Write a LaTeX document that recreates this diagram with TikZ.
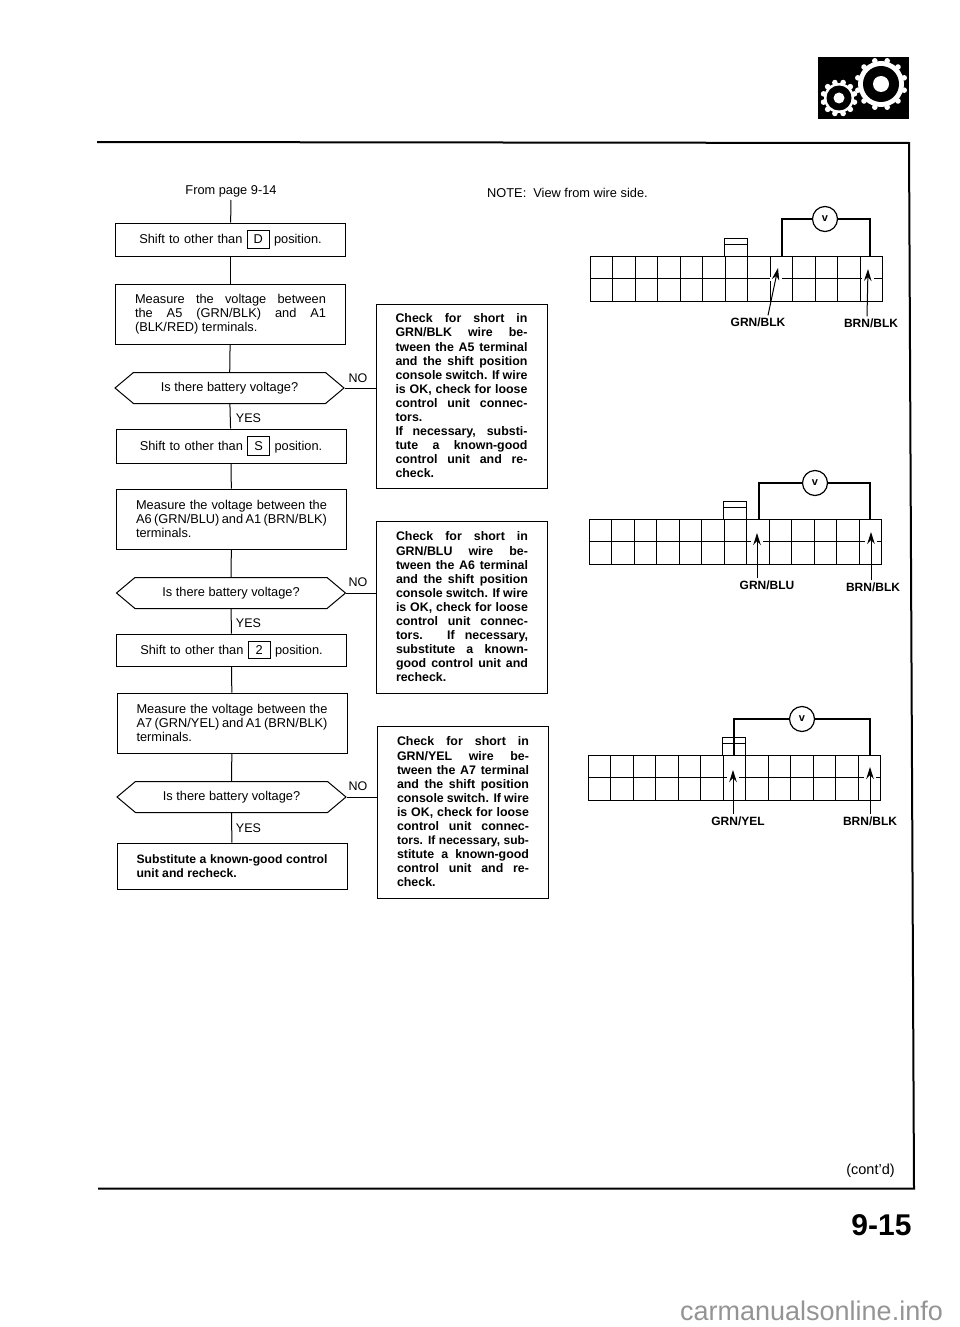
\documentclass[tikz,border=0pt]{standalone}
\usepackage{fontspec}
\setmainfont{Liberation Sans}
\usetikzlibrary{arrows.meta,shapes.symbols}
\newcommand{\rangekey}[1]{{\fboxsep=4pt\fboxrule=1pt\fbox{\makebox[13pt]{#1}}}}
\begin{document}
\begin{tikzpicture}[
  x=1pt, y=-1pt,
  flowtxt/.style = {font=\fontsize{12.8}{14}\selectfont},
  flowstep/.style = {draw, line width=1pt, flowtxt, minimum width=230, text width=191, inner xsep=19.5, inner ysep=0, align=justify},
  flowask/.style = {draw, line width=1pt, flowtxt, signal, signal to=west and east, signal pointer angle=80, minimum width=229, minimum height=31, inner sep=0},
  flowcheck/.style = {draw, line width=1pt, font=\bfseries\fontsize{12.4}{14.1}\selectfont, minimum width=171, text width=132, inner xsep=19.5, align=justify},
  flowlbl/.style = {font=\fontsize{12.5}{14}\selectfont, inner sep=1},
  flowline/.style = {line width=1pt},
  wirelbl/.style = {font=\bfseries\fontsize{12}{13}\selectfont, inner sep=2},
  wire/.style = {line width=1.1pt},
  meter/.style = {draw, circle, line width=1.2pt, fill=white, minimum size=25, inner sep=0, font=\bfseries\fontsize{11}{12}\selectfont},
  probe/.style = {line width=1pt, -{Stealth[length=12pt,width=7.5pt]}},
  conn/.style = {line width=.8pt}
]
  \useasboundingbox (0,0) rectangle (960,1327);
  % page frame
  \draw[line width=2pt] (97,142) -- (909,143) -- (914,1188.5) -- (98,1188.5);
  % gears
  \fill (818,57) rectangle (909,119);
  \foreach \cx/\cy/\rb/\rd/\rh/\rt in {881/84/23/18/8/24, 839/98/15/12.5/5.5/16} {
    \fill[white] (\cx,\cy) circle (\rb);
    \foreach \a in {15,45,...,345} {
      \fill[white] (\cx,\cy) ++(\a:\rt) circle (2.8);
    }
    \fill (\cx,\cy) circle (\rd);
    \fill[white] (\cx,\cy) circle (\rh);
  }
  % flow chart
  \node[flowtxt, inner sep=3] (frompage) at (231,191) {From page 9-14};
  \node[flowstep, minimum height=33, align=center] (shiftD) at (230.5,239.5) {Shift to other than \rangekey{D} position.};
  \node[flowstep, minimum height=60] (measA) at (230.5,314) {Measure the voltage between\linebreak the A5 (GRN/BLK) and A1\linebreak (BLK/RED) terminals.};
  \node[flowask] (askA) at (229.5,388) {Is there battery voltage?};
  \node[flowstep, minimum height=34, align=center] (shiftS) at (231,446) {Shift to other than \rangekey{S} position.};
  \node[flowstep, minimum height=60] (measB) at (231.5,519) {Measure the voltage between the\linebreak A6 (GRN/BLU) and A1 (BRN/BLK)\linebreak terminals.};
  \node[flowask] (askB) at (231,593) {Is there battery voltage?};
  \node[flowstep, minimum height=32, align=center] (shift2) at (231.5,650) {Shift to other than \rangekey{2} position.};
  \node[flowstep, minimum height=60] (measC) at (232,723) {Measure the voltage between the\linebreak A7 (GRN/YEL) and A1 (BRN/BLK)\linebreak terminals.};
  \node[flowask] (askC) at (231.5,797) {Is there battery voltage?};
  \node[flowstep, minimum height=46, font=\bfseries\fontsize{12.2}{14.5}\selectfont] (subst) at (232,866) {Substitute a known-good control\linebreak unit and recheck.};
  % check boxes
  \node[flowcheck, minimum height=184] (checkA) at (461.5,396) {Check for short in\linebreak GRN/BLK wire be-\linebreak tween the A5 terminal\linebreak and the shift position\linebreak console switch. If wire\linebreak is OK, check for loose\linebreak control unit connec-\linebreak tors.\\ If necessary, substi-\linebreak tute a known-good\linebreak control unit and re-\linebreak check.};
  \node[flowcheck, minimum height=172] (checkB) at (462,607) {Check for short in\linebreak GRN/BLU wire be-\linebreak tween the A6 terminal\linebreak and the shift position\linebreak console switch. If wire\linebreak is OK, check for loose\linebreak control unit connec-\linebreak tors. If necessary,\linebreak substitute a known-\linebreak good control unit and\linebreak recheck.};
  \node[flowcheck, minimum height=172] (checkC) at (463,812) {Check for short in\linebreak GRN/YEL wire be-\linebreak tween the A7 terminal\linebreak and the shift position\linebreak console switch. If wire\linebreak is OK, check for loose\linebreak control unit connec-\linebreak \makebox[\linewidth][s]{\fontsize{12}{14.1}\selectfont tors. If necessary, sub-}\linebreak stitute a known-good\linebreak control unit and re-\linebreak check.};
  % flow lines
  \foreach \a/\b in {frompage/shiftD, shiftD/measA, measA/askA, askA/shiftS, shiftS/measB, measB/askB, askB/shift2, shift2/measC, measC/askC, askC/subst} {
    \draw[flowline] (\a) -- (\b);
  }
  \foreach \a/\b in {askA/checkA, askB/checkB, askC/checkC} {
    \draw[flowline] (\a.east) -- (\a.east -| \b.west);
  }
  \foreach \n/\y in {A/378, B/582, C/786} {
    \node[flowlbl] (no\n) at (358,\y) {NO};
  }
  \foreach \n/\y in {A/418, B/623, C/828} {
    \node[flowlbl] (yes\n) at (248.5,\y) {YES};
  }
  % connectors
  \node[flowtxt, anchor=west, inner sep=0] (note) at (487,193) {NOTE:\ \ View from wire side.};
  \foreach \ox/\oy in {590/256, 589/519, 588/755} {
    \draw[conn] (\ox,\oy) rectangle (\ox+292.5,\oy+45);
    \draw[conn] (\ox,\oy+22.5) -- (\ox+292.5,\oy+22.5);
    \foreach \c in {1,...,12} {
      \draw[conn] (\ox+\c*22.5,\oy) -- (\ox+\c*22.5,\oy+45);
    }
    \draw[conn] (\ox+134,\oy) -- (\ox+134,\oy-18) -- (\ox+157.5,\oy-18) -- (\ox+157.5,\oy);
    \draw[conn] (\ox+134,\oy-12) -- (\ox+157.5,\oy-12);
  }
  \foreach \g/\m in {776/278.5, 868/278.5, 757/541.5, 871/541.5, 733/777.5, 870/777.5} {
    \fill[white] (\g-6,\m-2) rectangle (\g+6,\m+2);
  }
  % meters
  \node[meter] (meterA) at (825,219) {v};
  \node[meter] (meterB) at (815,483) {v};
  \node[meter] (meterC) at (802,719) {v};
  \coordinate (wireA1) at (782,256);
  \coordinate (wireA2) at (870,256);
  \coordinate (wireB1) at (759,519);
  \coordinate (wireB2) at (870,519);
  \coordinate (wireC1) at (734,755);
  \coordinate (wireC2) at (870,755);
  \foreach \n in {A,B,C} {
    \draw[wire] (wire\n1) |- (meter\n);
    \draw[wire] (wire\n2) |- (meter\n);
  }
  % wire labels
  \node[wirelbl] (lblA1) at (758,322) {GRN/BLK};
  \node[wirelbl] (lblA2) at (871,323) {BRN/BLK};
  \node[wirelbl] (lblB1) at (767,585) {GRN/BLU};
  \node[wirelbl] (lblB2) at (873,587) {BRN/BLK};
  \node[wirelbl] (lblC1) at (738,821) {GRN/YEL};
  \node[wirelbl] (lblC2) at (870,821) {BRN/BLK};
  \coordinate (tipA1) at (778,268);
  \coordinate (tipA2) at (868,269);
  \coordinate (tipB1) at (757,533);
  \coordinate (tipB2) at (871,532);
  \coordinate (tipC1) at (733,770);
  \coordinate (tipC2) at (870,767);
  \draw[probe] ([xshift=10pt]lblA1.north) -- (tipA1);
  \draw[probe] ([xshift=-4pt]lblA2.north) -- (tipA2);
  \draw[probe] ([xshift=-10pt]lblB1.north) -- (tipB1);
  \draw[probe] ([xshift=-2pt]lblB2.north) -- (tipB2);
  \draw[probe] ([xshift=-5pt]lblC1.north) -- (tipC1);
  \draw[probe] (lblC2.north) -- (tipC2);
  % page foot
  \node[font=\fontsize{14.5}{16}\selectfont] (contd) at (870.5,1171) {(cont'd)};
  \node[font=\bfseries\fontsize{30}{32}\selectfont] (pageno) at (881.5,1225) {9-15};
  \node[font=\fontsize{27}{30}\selectfont, text=black!42] (mark) at (811.5,1311) {carmanualsonline.info};
\end{tikzpicture}
\end{document}
